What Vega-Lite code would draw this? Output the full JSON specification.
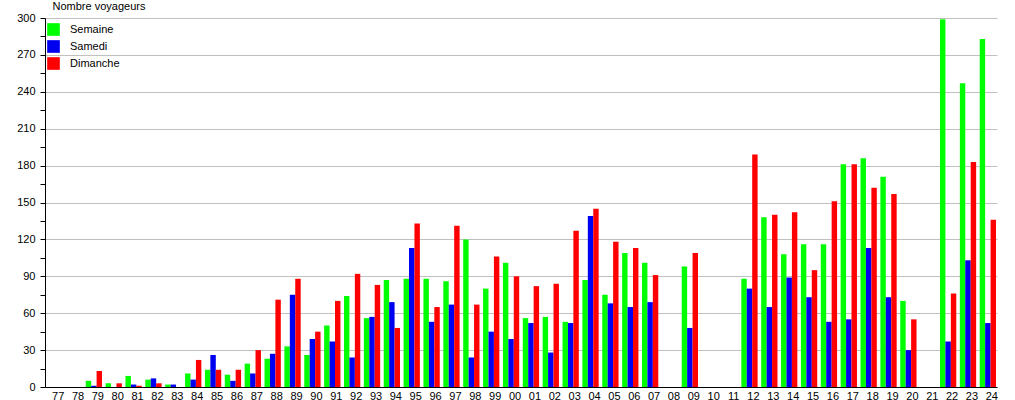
{
  "$schema": "https://vega.github.io/schema/vega-lite/v6.json",
  "width": 952,
  "height": 369,
  "autosize": {"type": "none"},
  "padding": {"left": 45, "top": 18, "right": 18, "bottom": 13},
  "background": "white",
  "config": {"view": {"stroke": null}, "font": "Liberation Sans"},
  "data": {"values": [
    {"annee":"79","type":"Semaine","n":5},{"annee":"79","type":"Samedi","n":1},{"annee":"79","type":"Dimanche","n":13},
    {"annee":"80","type":"Semaine","n":3},{"annee":"80","type":"Dimanche","n":3},
    {"annee":"81","type":"Semaine","n":9},{"annee":"81","type":"Samedi","n":2},{"annee":"81","type":"Dimanche","n":1},
    {"annee":"82","type":"Semaine","n":6},{"annee":"82","type":"Samedi","n":7},{"annee":"82","type":"Dimanche","n":3},
    {"annee":"83","type":"Semaine","n":2},{"annee":"83","type":"Samedi","n":2},
    {"annee":"84","type":"Semaine","n":11},{"annee":"84","type":"Samedi","n":6},{"annee":"84","type":"Dimanche","n":22},
    {"annee":"85","type":"Semaine","n":14},{"annee":"85","type":"Samedi","n":26},{"annee":"85","type":"Dimanche","n":14},
    {"annee":"86","type":"Semaine","n":10},{"annee":"86","type":"Samedi","n":5},{"annee":"86","type":"Dimanche","n":14},
    {"annee":"87","type":"Semaine","n":19},{"annee":"87","type":"Samedi","n":11},{"annee":"87","type":"Dimanche","n":30},
    {"annee":"88","type":"Semaine","n":23},{"annee":"88","type":"Samedi","n":27},{"annee":"88","type":"Dimanche","n":71},
    {"annee":"89","type":"Semaine","n":33},{"annee":"89","type":"Samedi","n":75},{"annee":"89","type":"Dimanche","n":88},
    {"annee":"90","type":"Semaine","n":26},{"annee":"90","type":"Samedi","n":39},{"annee":"90","type":"Dimanche","n":45},
    {"annee":"91","type":"Semaine","n":50},{"annee":"91","type":"Samedi","n":37},{"annee":"91","type":"Dimanche","n":70},
    {"annee":"92","type":"Semaine","n":74},{"annee":"92","type":"Samedi","n":24},{"annee":"92","type":"Dimanche","n":92},
    {"annee":"93","type":"Semaine","n":56},{"annee":"93","type":"Samedi","n":57},{"annee":"93","type":"Dimanche","n":83},
    {"annee":"94","type":"Semaine","n":87},{"annee":"94","type":"Samedi","n":69},{"annee":"94","type":"Dimanche","n":48},
    {"annee":"95","type":"Semaine","n":88},{"annee":"95","type":"Samedi","n":113},{"annee":"95","type":"Dimanche","n":133},
    {"annee":"96","type":"Semaine","n":88},{"annee":"96","type":"Samedi","n":53},{"annee":"96","type":"Dimanche","n":65},
    {"annee":"97","type":"Semaine","n":86},{"annee":"97","type":"Samedi","n":67},{"annee":"97","type":"Dimanche","n":131},
    {"annee":"98","type":"Semaine","n":120},{"annee":"98","type":"Samedi","n":24},{"annee":"98","type":"Dimanche","n":67},
    {"annee":"99","type":"Semaine","n":80},{"annee":"99","type":"Samedi","n":45},{"annee":"99","type":"Dimanche","n":106},
    {"annee":"00","type":"Semaine","n":101},{"annee":"00","type":"Samedi","n":39},{"annee":"00","type":"Dimanche","n":90},
    {"annee":"01","type":"Semaine","n":56},{"annee":"01","type":"Samedi","n":52},{"annee":"01","type":"Dimanche","n":82},
    {"annee":"02","type":"Semaine","n":57},{"annee":"02","type":"Samedi","n":28},{"annee":"02","type":"Dimanche","n":84},
    {"annee":"03","type":"Semaine","n":53},{"annee":"03","type":"Samedi","n":52},{"annee":"03","type":"Dimanche","n":127},
    {"annee":"04","type":"Semaine","n":87},{"annee":"04","type":"Samedi","n":139},{"annee":"04","type":"Dimanche","n":145},
    {"annee":"05","type":"Semaine","n":75},{"annee":"05","type":"Samedi","n":68},{"annee":"05","type":"Dimanche","n":118},
    {"annee":"06","type":"Semaine","n":109},{"annee":"06","type":"Samedi","n":65},{"annee":"06","type":"Dimanche","n":113},
    {"annee":"07","type":"Semaine","n":101},{"annee":"07","type":"Samedi","n":69},{"annee":"07","type":"Dimanche","n":91},
    {"annee":"09","type":"Semaine","n":98},{"annee":"09","type":"Samedi","n":48},{"annee":"09","type":"Dimanche","n":109},
    {"annee":"12","type":"Semaine","n":88},{"annee":"12","type":"Samedi","n":80},{"annee":"12","type":"Dimanche","n":189},
    {"annee":"13","type":"Semaine","n":138},{"annee":"13","type":"Samedi","n":65},{"annee":"13","type":"Dimanche","n":140},
    {"annee":"14","type":"Semaine","n":108},{"annee":"14","type":"Samedi","n":89},{"annee":"14","type":"Dimanche","n":142},
    {"annee":"15","type":"Semaine","n":116},{"annee":"15","type":"Samedi","n":73},{"annee":"15","type":"Dimanche","n":95},
    {"annee":"16","type":"Semaine","n":116},{"annee":"16","type":"Samedi","n":53},{"annee":"16","type":"Dimanche","n":151},
    {"annee":"17","type":"Semaine","n":181},{"annee":"17","type":"Samedi","n":55},{"annee":"17","type":"Dimanche","n":181},
    {"annee":"18","type":"Semaine","n":186},{"annee":"18","type":"Samedi","n":113},{"annee":"18","type":"Dimanche","n":162},
    {"annee":"19","type":"Semaine","n":171},{"annee":"19","type":"Samedi","n":73},{"annee":"19","type":"Dimanche","n":157},
    {"annee":"20","type":"Semaine","n":70},{"annee":"20","type":"Samedi","n":30},{"annee":"20","type":"Dimanche","n":55},
    {"annee":"22","type":"Semaine","n":299},{"annee":"22","type":"Samedi","n":37},{"annee":"22","type":"Dimanche","n":76},
    {"annee":"23","type":"Semaine","n":247},{"annee":"23","type":"Samedi","n":103},{"annee":"23","type":"Dimanche","n":183},
    {"annee":"24","type":"Semaine","n":283},{"annee":"24","type":"Samedi","n":52},{"annee":"24","type":"Dimanche","n":136}
  ]},
  "mark": {"type": "bar"},
  "encoding": {
    "x": {
      "field": "annee", "type": "nominal",
      "scale": {"domain": ["77","78","79","80","81","82","83","84","85","86","87","88","89","90","91","92","93","94","95","96","97","98","99","00","01","02","03","04","05","06","07","08","09","10","11","12","13","14","15","16","17","18","19","20","21","22","23","24"], "paddingInner": 0.18, "paddingOuter": 0.05},
      "axis": {"title": null, "labelAngle": 0, "ticks": false, "domainColor": "black", "labelFontSize": 11, "labelColor": "black", "labelOffset": 4, "labelPadding": 3, "grid": false}
    },
    "xOffset": {"field": "type", "type": "nominal", "sort": ["Semaine","Samedi","Dimanche"]},
    "y": {
      "field": "n", "type": "quantitative",
      "scale": {"domain": [0, 300], "nice": false},
      "axis": {
        "values": [0,15,30,45,60,75,90,105,120,135,150,165,180,195,210,225,240,255,270,285,300],
        "labelExpr": "datum.value % 30 === 0 ? datum.label : ''",
        "gridColor": {"condition": {"test": "datum.value % 30 === 0", "value": "#c0c0c0"}, "value": "transparent"},
        "domainColor": "black", "tickColor": "black", "tickSize": 5, "labelPadding": 5,
        "labelFontSize": 11, "labelColor": "black",
        "title": "Nombre voyageurs", "titleAngle": 0, "titleAlign": "left", "titleBaseline": "middle",
        "titleX": 7, "titleY": -12, "titleFontWeight": "normal", "titleFontSize": 11, "titleColor": "black"
      }
    },
    "color": {
      "field": "type", "type": "nominal",
      "scale": {"domain": ["Semaine","Samedi","Dimanche"], "range": ["#00ff00","#0000f0","#ff0000"]},
      "legend": {"orient": "none", "legendX": 2, "legendY": 5, "title": null, "symbolType": "square", "symbolSize": 160, "symbolStrokeWidth": 0, "symbolOpacity": 1, "labelFontSize": 11, "labelColor": "black", "labelOffset": 10, "rowPadding": 4}
    }
  }
}
